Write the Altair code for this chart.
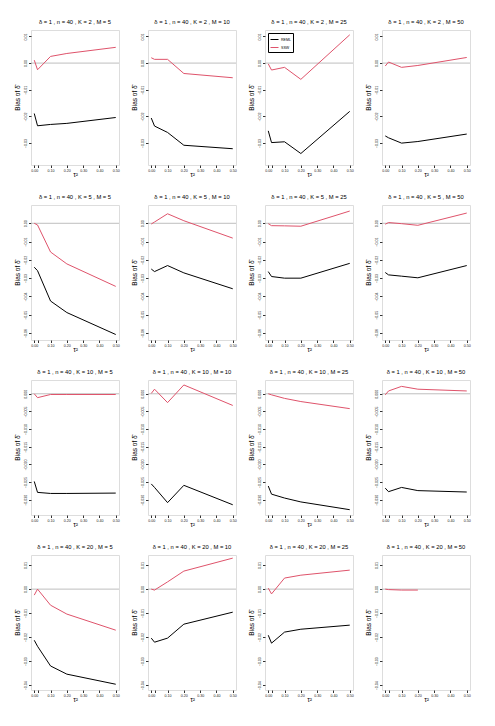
import altair as alt
import pandas as pd

TAU = [0.0, 0.02, 0.1, 0.2, 0.5]
K_VALUES = [2, 5, 10, 20]
M_VALUES = [5, 10, 25, 50]
X_TICKS = [0.0, 0.02, 0.1, 0.2, 0.3, 0.4, 0.5]

REML_K2 = [
    [-0.0189, -0.0235, -0.0230, -0.0226, -0.0204],
    [-0.0206, -0.0236, -0.0260, -0.0308, -0.0321],
    [-0.0254, -0.0298, -0.0295, -0.0339, -0.0181],
    [-0.0273, -0.0280, -0.0300, -0.0294, -0.0266],
]
SSW_K2 = [
    [0.0011, -0.0025, 0.0025, 0.0036, 0.0059],
    [0.0020, 0.0014, 0.0014, -0.0039, -0.0055],
    [-0.0003, -0.0026, -0.0016, -0.0061, 0.0106],
    [-0.0011, 0.0004, -0.0016, -0.0009, 0.0021],
]
REML_K5 = [
    [-0.0240, -0.0259, -0.0425, -0.0488, -0.0608],
    [-0.0250, -0.0264, -0.0231, -0.0271, -0.0358],
    [-0.0264, -0.0291, -0.0300, -0.0300, -0.0219],
    [-0.0269, -0.0282, -0.0289, -0.0298, -0.0231],
]
SSW_K5 = [
    [0.0000, -0.0009, -0.0157, -0.0222, -0.0345],
    [-0.0004, 0.0007, 0.0052, 0.0014, -0.0081],
    [-0.0002, -0.0013, -0.0014, -0.0016, 0.0067],
    [-0.0005, 0.0004, -0.0002, -0.0011, 0.0056],
]
REML_K10 = [
    [-0.0248, -0.0279, -0.0282, -0.0282, -0.0281],
    [-0.0255, -0.0265, -0.0308, -0.0259, -0.0314],
    [-0.0261, -0.0284, -0.0295, -0.0306, -0.0328],
    [-0.0267, -0.0277, -0.0265, -0.0274, -0.0278],
]
SSW_K10 = [
    [0.0000, -0.0011, -0.0002, -0.0002, -0.0002],
    [0.0001, 0.0013, -0.0025, 0.0025, -0.0033],
    [0.0000, -0.0003, -0.0013, -0.0022, -0.0042],
    [-0.0003, 0.0008, 0.0021, 0.0013, 0.0008],
]
REML_K20 = [
    [-0.0213, -0.0238, -0.0320, -0.0354, -0.0396],
    [-0.0204, -0.0221, -0.0204, -0.0146, -0.0096],
    [-0.0192, -0.0225, -0.0179, -0.0167, -0.0150],
    [None, None, None, None, None],
]
SSW_K20 = [
    [-0.0025, 0.0000, -0.0067, -0.0104, -0.0171],
    [0.0000, -0.0004, 0.0030, 0.0075, 0.0129],
    [0.0004, -0.0020, 0.0046, 0.0058, 0.0079],
    [0.0000, -0.0002, -0.0004, -0.0004, None],
]

REML_ROWS = [REML_K2, REML_K5, REML_K10, REML_K20]
SSW_ROWS = [SSW_K2, SSW_K5, SSW_K10, SSW_K20]

Y_DOMAINS = [[-0.0382, 0.0124], [-0.0638, 0.0100], [-0.0343, 0.0039], [-0.0420, 0.0142]]
Y_TICKS = [
    [-0.03, -0.02, -0.01, 0.0, 0.01],
    [-0.06, -0.05, -0.04, -0.03, -0.02, -0.01, 0.0],
    [-0.030, -0.025, -0.020, -0.015, -0.010, -0.005, 0.0],
    [-0.04, -0.03, -0.02, -0.01, 0.0, 0.01],
]
Y_FORMATS = [".2f", ".2f", ".3f", ".2f"]

METHODS = ["REML", "SSW"]
COLORS = ["#000000", "#DF536B"]
FONT = "Liberation Sans"
W, H = 88, 135
LBL = 3.6


def y_axis(ki):
    return alt.Axis(values=Y_TICKS[ki], format=Y_FORMATS[ki], labelAngle=270,
                    labelFontSize=LBL, labelFont=FONT, labelColor="#222222",
                    tickSize=2.5, tickColor="#333333", labelPadding=1,
                    domain=False, grid=False, labelFlush=False, labelOverlap=False,
                    titlePadding=3, titleFontSize=6.5,
                    titleFont=FONT, titleFontWeight="normal", titleColor="#000000")


def panel(ki, mi):
    recs = []
    for method, series in (("REML", REML_ROWS[ki][mi]), ("SSW", SSW_ROWS[ki][mi])):
        for t, v in zip(TAU, series):
            if v is not None:
                recs.append({"tau": t, "bias": v, "method": method})
    df = pd.DataFrame(recs, columns=["tau", "bias", "method"])
    yscale = alt.Scale(domain=Y_DOMAINS[ki], nice=False, zero=False)
    xscale = alt.Scale(domain=[-0.02, 0.52], nice=False, zero=False)
    show_legend = (ki == 0 and mi == 2)
    legend = alt.Legend(
        orient="top-left", title=None, labelFontSize=LBL, labelFont=FONT,
        symbolType="stroke", symbolSize=64, symbolStrokeWidth=1,
        strokeColor="#000000", fillColor="#ffffff", padding=2,
        offset=3, rowPadding=1, labelOffset=2,
    ) if show_legend else None
    zero = alt.Chart(pd.DataFrame({"bias": [0.0]})).mark_rule(
        color="#BEBEBE", strokeWidth=1
    ).encode(y=alt.Y("bias:Q", scale=yscale, title="Bias of δ̂", axis=y_axis(ki)))
    lines = alt.Chart(df).mark_line(strokeWidth=1).encode(
        x=alt.X("tau:Q", scale=xscale, title="τ²",
                axis=alt.Axis(values=X_TICKS, format=".2f",
                              labelExpr="datum.value == 0.02 ? '' : format(datum.value, '.2f')",
                              labelFontSize=LBL, labelFont=FONT, labelColor="#222222",
                              tickSize=2.5, tickColor="#333333", labelPadding=1,
                              domain=False, grid=False, labelFlush=False, labelOverlap=False,
                              titleY=9, titleBaseline="middle", titleFontSize=6.5,
                              titleFont=FONT, titleFontWeight="normal", titleColor="#000000")),
        y=alt.Y("bias:Q", scale=yscale, title="Bias of δ̂", axis=y_axis(ki)),
        color=alt.Color("method:N", scale=alt.Scale(domain=METHODS, range=COLORS), legend=legend),
        order="tau:Q",
    )
    title = f"δ = 1 , n = 40 , K = {K_VALUES[ki]} , M = {M_VALUES[mi]}"
    return alt.layer(zero, lines).properties(
        width=W, height=H,
        title=alt.TitleParams(title, fontSize=5.8, font=FONT, fontWeight="normal", offset=5),
    )


panels = [panel(ki, mi) for ki in range(4) for mi in range(4)]

chart = alt.concat(
    *panels, columns=4, spacing=alt.RowColnumber(row=40, column=29), bounds="flush"
).resolve_scale(
    color="independent", x="independent", y="independent"
).properties(
    padding={"left": 6, "top": 10, "right": 5, "bottom": 5}
).configure_view(
    stroke="#333333", strokeWidth=1
).configure_axis(
    labelOverlap=False, labelFontSize=LBL
).configure(background="#ffffff")

chart.save("out.html", embed_options={"renderer": "svg", "actions": False})
